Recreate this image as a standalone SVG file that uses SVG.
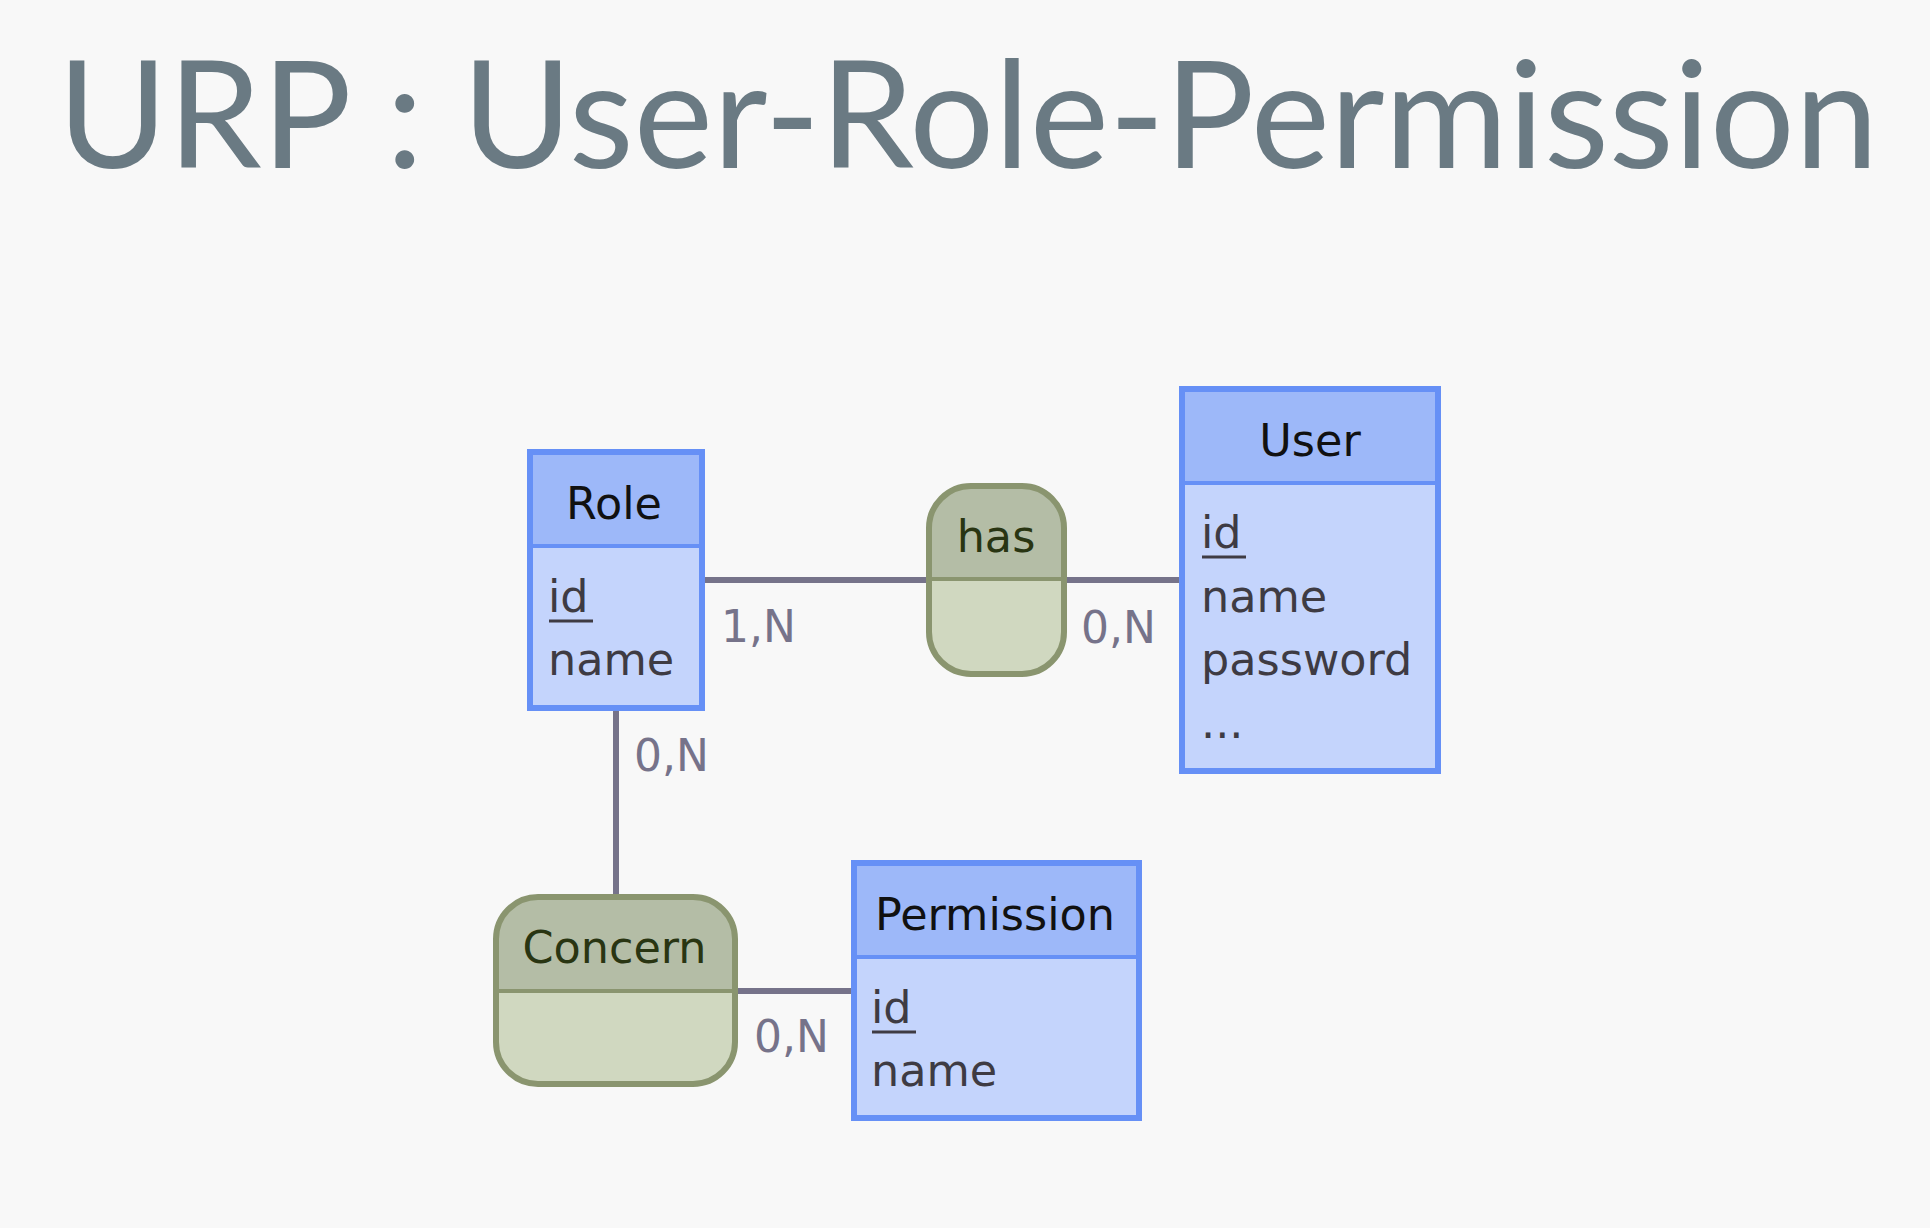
<svg xmlns="http://www.w3.org/2000/svg" width="1930" height="1228" viewBox="0 0 1930 1228">
<style>
.bg{fill:#f8f8f8}
.title{font-family:Lato,"Open Sans",sans-serif;font-size:150px;fill:#6a7a83;text-anchor:middle}
.ebody{fill:#c4d4fc}
.ehead{fill:#9db8f9}
.eborder{fill:none;stroke:#6690f6;stroke-width:6}
.esep{stroke:#6690f6;stroke-width:4}
.etitle{font-family:"DejaVu Sans",Verdana,sans-serif;font-size:44.5px;fill:#111111;text-anchor:middle}
.attr{font-family:"DejaVu Sans",Verdana,sans-serif;font-size:44.5px;fill:#3e3b43}
.ul{stroke:#3e3b43;stroke-width:3}
.rbody{fill:#d0d8c0}
.rhead{fill:#b4bda6}
.rborder{fill:none;stroke:#8a956f;stroke-width:6}
.rsep{stroke:#8a956f;stroke-width:4}
.rtitle{font-family:"DejaVu Sans",Verdana,sans-serif;font-size:44.5px;fill:#293512;text-anchor:middle}
.conn{stroke:#76738a;stroke-width:6;fill:none}
.card{font-family:"DejaVu Sans",Verdana,sans-serif;font-size:44px;fill:#76738a}
</style>
<rect class="bg" x="0" y="0" width="1930" height="1228"/>
<text class="title" x="968" y="168">URP : User-Role-Permission</text>
<g id="connectors">
<line class="conn" x1="702" y1="580" x2="929" y2="580"/>
<line class="conn" x1="1064" y1="580" x2="1182" y2="580"/>
<line class="conn" x1="616" y1="708" x2="616" y2="897"/>
<line class="conn" x1="735" y1="991" x2="854" y2="991"/>
<text class="card" x="721" y="642">1,N</text>
<text class="card" x="1081" y="643">0,N</text>
<text class="card" x="634" y="771">0,N</text>
<text class="card" x="754" y="1052">0,N</text>
</g>
<g id="role">
<rect class="ebody" x="530" y="452" width="172" height="256"/>
<rect class="ehead" x="530" y="452" width="172" height="94"/>
<line class="esep" x1="530" y1="546" x2="702" y2="546"/>
<rect class="eborder" x="530" y="452" width="172" height="256"/>
<text class="etitle" x="614" y="519">Role</text>
<text class="attr" x="548" y="612">id</text>
<line class="ul" x1="549" y1="621" x2="593" y2="621"/>
<text class="attr" x="548" y="675">name</text>
</g>
<g id="user">
<rect class="ebody" x="1182" y="389" width="256" height="382"/>
<rect class="ehead" x="1182" y="389" width="256" height="94"/>
<line class="esep" x1="1182" y1="483" x2="1438" y2="483"/>
<rect class="eborder" x="1182" y="389" width="256" height="382"/>
<text class="etitle" x="1310" y="456">User</text>
<text class="attr" x="1201" y="548">id</text>
<line class="ul" x1="1202" y1="557" x2="1246" y2="557"/>
<text class="attr" x="1201" y="612">name</text>
<text class="attr" x="1201" y="675">password</text>
<text class="attr" x="1201" y="738">...</text>
</g>
<g id="permission">
<rect class="ebody" x="854" y="863" width="285" height="255"/>
<rect class="ehead" x="854" y="863" width="285" height="94"/>
<line class="esep" x1="854" y1="957" x2="1139" y2="957"/>
<rect class="eborder" x="854" y="863" width="285" height="255"/>
<text class="etitle" x="995" y="930">Permission</text>
<text class="attr" x="871" y="1023">id</text>
<line class="ul" x1="872" y1="1032" x2="916" y2="1032"/>
<text class="attr" x="871" y="1086">name</text>
</g>
<g id="has">
<rect class="rbody" x="929" y="486" width="135" height="188" rx="42" ry="42"/>
<path class="rhead" d="M929,579 V528 A42,42 0 0 1 971,486 H1022 A42,42 0 0 1 1064,528 V579 Z"/>
<line class="rsep" x1="929" y1="579" x2="1064" y2="579"/>
<rect class="rborder" x="929" y="486" width="135" height="188" rx="42" ry="42"/>
<text class="rtitle" x="996" y="552">has</text>
</g>
<g id="concern">
<rect class="rbody" x="496" y="897" width="239" height="187" rx="42" ry="42"/>
<path class="rhead" d="M496,991 V939 A42,42 0 0 1 538,897 H693 A42,42 0 0 1 735,939 V991 Z"/>
<line class="rsep" x1="496" y1="991" x2="735" y2="991"/>
<rect class="rborder" x="496" y="897" width="239" height="187" rx="42" ry="42"/>
<text class="rtitle" x="614.5" y="963">Concern</text>
</g>
</svg>
